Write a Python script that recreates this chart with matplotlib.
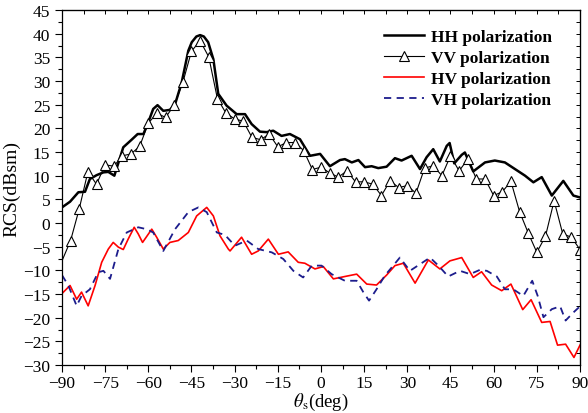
import matplotlib
matplotlib.use('Agg')
import matplotlib.pyplot as plt
from matplotlib.ticker import MultipleLocator

# ── Data ──────────────────────────────────────────────────────────────────────
hh_deg = [-90, -87.2, -84.3, -82, -80.3, -78, -75.6, -73.9, -71.8, -68.7, -65.8,
          -63.7, -61.7, -60, -58.3, -56.8, -54.8, -52.5, -50.7, -48.4, -46.1,
          -44.9, -43.3, -42, -40.7, -39.2, -37.4, -35.7, -32.8, -29.3, -26.4, -24.1, -21.2,
          -18.9, -16.6, -13.7, -10.8, -7.3, -3.8, -0.3, 3.1, 6.6, 8.3, 10.7,
          13.0, 15.3, 17.6, 19.9, 22.8, 25.7, 28, 31.5, 34.4, 36.7, 39, 41.3,
          43.7, 44.7, 46.3, 48.9, 50, 52.9, 57, 60.4, 63.9, 67.4, 70.9, 73.8,
          76.7, 80.2, 84.2, 87.7, 90]
hh_rcs = [3.3, 4.5, 6.5, 6.6, 9.3, 10.1, 10.7, 10.8, 10.0, 16.0, 17.6,
          18.8, 18.8, 21.3, 24.1, 24.9, 23.7, 23.9, 25.1, 29.7, 36.4,
          38.2, 39.4, 39.7, 39.4, 38.2, 34.6, 27.3, 24.8, 23.0, 23.0, 20.9, 19.3,
          19.2, 19.5, 18.4, 18.8, 17.7, 14.2, 14.6, 12.0, 13.3, 13.5, 12.8,
          13.3, 11.8, 12.0, 11.6, 11.9, 13.7, 13.2, 14.2, 11.4, 13.9, 15.6, 13.0,
          16.3, 16.9, 12.6, 14.4, 14.9, 10.9, 12.8, 13.2, 12.8, 11.4, 10.0, 8.6,
          9.7, 5.8, 8.9, 5.8, 5.4]

vv_deg = [-90, -87, -84, -81, -78, -75, -72, -69, -66, -63, -60, -57, -54, -51,
          -48, -45, -42, -39, -36, -33, -30, -27, -24, -21, -18, -15, -12, -9,
          -6, -3, 0, 3, 6, 9, 12, 15, 18, 21, 24, 27, 30, 33, 36, 39, 42, 45,
          48, 51, 54, 57, 60, 63, 66, 69, 72, 75, 78, 81, 84, 87, 90]
vv_rcs = [-8.0, -3.7, 3.0, 10.8, 8.2, 12.3, 12.0, 14.2, 14.6, 16.2, 21.1, 23.2,
          22.3, 24.9, 29.7, 36.3, 38.5, 35.1, 26.3, 23.2, 22.0, 21.5, 18.1, 17.6,
          18.8, 16.1, 17.0, 17.0, 15.3, 11.3, 11.8, 10.6, 9.7, 11.0, 8.7, 8.7,
          8.2, 5.8, 8.9, 7.5, 7.9, 6.3, 11.6, 12.1, 10.0, 14.2, 11.0, 13.5, 9.3,
          9.3, 5.8, 6.6, 8.8, 2.4, -2.1, -6.2, -2.8, 4.7, -2.3, -3.0, -5.6]

hv_deg = [-90, -87.2, -84.9, -83.2, -80.9, -78.5, -76.2, -73.9, -72.2, -70.4,
          -68.7, -67, -64.9, -63.5, -62, -58.8, -57.1, -54.8, -52.5, -49.6,
          -46.1, -43.2, -39.7, -37.4, -35.1, -32.2, -31.6, -27.6, -24.1, -21.8,
          -18.3, -14.8, -11.4, -7.9, -5.6, -2.1, 0.8, 4.3, 8.3, 12.4, 15.9,
          19.3, 22.8, 25.7, 28.6, 32.7, 37.3, 41.3, 44.8, 48.9, 52.9, 55.8,
          59.3, 62.8, 66.0, 70.1, 73.0, 76.7, 79.6, 82.2, 85.0, 87.9, 90]
hv_rcs = [-14.9, -13.2, -16.1, -14.6, -17.5, -13.2, -8.3, -5.5, -4.1, -5.1,
          -5.6, -3.4, -0.9, -2.3, -4.1, -1.3, -3.0, -5.5, -4.1, -3.7,
          -2.0, 1.5, 3.3, 1.5, -2.7, -5.5, -5.9, -3.0, -6.6, -5.9,
          -3.4, -6.6, -6.1, -8.3, -8.5, -9.7, -9.2, -11.8, -11.3, -10.8, -12.9,
          -13.1, -11.0, -9.0, -8.5, -12.7, -7.8, -9.7, -8.0, -7.3, -11.5, -10.3,
          -13.1, -14.3, -12.9, -18.3, -16.2, -21.0, -20.8, -25.8, -25.6, -28.4, -25.8]

vh_deg = [-90, -87.8, -84.9, -83.2, -80.3, -77.4, -75.6, -73.3, -70.4, -67.5,
          -63.5, -60.6, -58.3, -54.8, -50.7, -46.1, -42.6, -39.7, -36.2, -33.4,
          -29.9, -25.8, -21.8, -17.1, -13.1, -9.6, -6.2, -3.2, 0.2, 3.7, 8.3,
          12.4, 14.7, 16.7, 19.3, 22.2, 25.1, 27.4, 30.9, 34.4, 37.9, 40.8,
          44.2, 48.3, 51.8, 55.2, 57.6, 61.1, 63.9, 66.8, 70.3, 73.4, 75.3,
          77.3, 80.2, 83.1, 85.0, 87.7, 90]
vh_rcs = [-11.0, -13.2, -17.5, -15.4, -14.0, -10.4, -10.1, -11.8, -5.5, -2.0,
          -0.9, -1.3, -2.0, -5.9, -1.3, 2.3, 3.3, 2.3, -2.0, -2.5,
          -4.8, -3.7, -5.5, -6.2, -7.6, -10.1, -11.5, -9.0, -9.0, -10.8, -12.2,
          -12.2, -14.6, -16.4, -14.0, -11.1, -9.0, -7.3, -10.1, -8.7, -7.3, -9.0,
          -11.3, -10.1, -10.8, -9.9, -10.1, -11.3, -14.0, -14.0, -15.4, -12.2, -15.4,
          -19.9, -18.2, -17.6, -20.6, -18.9, -17.6]

x_ticks = [-90, -75, -60, -45, -30, -15, 0, 15, 30, 45, 60, 75, 90]

# ── Style ─────────────────────────────────────────────────────────────────────
plt.rcParams['font.family'] = ['Liberation Serif', 'DejaVu Serif']
plt.rcParams['mathtext.fontset'] = 'stix'

fig = plt.figure(figsize=(5.88, 4.14), dpi=100)
ax = fig.add_axes([0.1054, 0.1159, 0.881, 0.8575])

ax.plot(hh_deg, hh_rcs, color='black', lw=1.8, label='HH polarization')
ax.plot(vv_deg, vv_rcs, color='black', lw=0.8, marker='^', ms=7,
        mfc='white', mec='black', mew=0.8, markevery=list(range(1, len(vv_deg))),
        label='VV polarization')
ax.plot(hv_deg, hv_rcs, color='red', lw=1.2, label='HV polarization')
ax.plot(vh_deg, vh_rcs, color='#1c1c8c', lw=1.3, ls=(0, (4, 3)),
        label='VH polarization')

ax.set_xlim(-90, 90)
ax.set_ylim(-30, 45)
ax.set_xticks(x_ticks)
ax.xaxis.set_minor_locator(MultipleLocator(7.5))
ax.yaxis.set_major_locator(MultipleLocator(5))
ax.yaxis.set_minor_locator(MultipleLocator(2.5))
ax.tick_params(which='both', direction='out', labelsize=12.5, width=0.8)
ax.tick_params(which='major', length=5)
ax.tick_params(which='minor', length=3)
ax.tick_params(axis='x', pad=2)

# inward ticks on top and right
top = ax.secondary_xaxis('top')
top.set_xticks(x_ticks)
top.xaxis.set_minor_locator(MultipleLocator(7.5))
top.tick_params(which='both', direction='in', labeltop=False, length=3, width=0.7)
right = ax.secondary_yaxis('right')
right.yaxis.set_major_locator(MultipleLocator(5))
right.yaxis.set_minor_locator(MultipleLocator(2.5))
right.tick_params(which='both', direction='in', labelright=False, length=3, width=0.7)

for sp in ax.spines.values():
    sp.set_linewidth(0.9)

ax.set_ylabel('RCS(dBsm)', fontsize=14, labelpad=2)
ax.set_xlabel(r'$\theta_{\rm s}$(deg)', fontsize=13.5, labelpad=0)

leg = ax.legend(loc='upper right', bbox_to_anchor=(0.959, 0.966), borderaxespad=0,
                frameon=False, prop={'weight': 'bold', 'size': 12.5},
                handlelength=2.3, handletextpad=0.4, labelspacing=0.28)

fig.savefig('out.png', dpi=100)
